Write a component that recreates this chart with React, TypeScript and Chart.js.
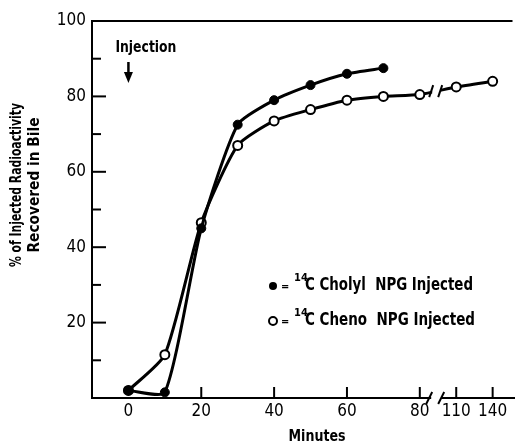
import React, { useEffect, useRef } from 'react';
import { Chart, registerables } from 'chart.js';

Chart.register(...registerables);

// ---- data ----
const minutes = [0, 10, 20, 30, 40, 50, 60, 70, 80, 110, 140];
const cholylValues = [2, 1.5, 45, 72.5, 79, 83, 86, 87.5];
const chenoValues = [2, 11.5, 46.5, 67, 73.5, 76.5, 79, 80, 80.5, 82.5, 84];
const xTickMinutes = [0, 20, 40, 60, 80, 110, 140];
const yTickValues = [20, 40, 60, 80, 100];
const yMinorValues = [10, 30, 50, 70, 90];
const legendLabels = ['Cholyl  NPG Injected', 'Cheno  NPG Injected'];

// broken axis: 80 -> 110 compressed, after the break 3 minutes per axis unit
const BREAK_FROM = 80;
const BREAK_TO = 110;
const toAxis = (t: number) => (t <= BREAK_FROM ? t : BREAK_FROM + 10 + (t - BREAK_TO) / 3);
const BREAK_AXIS = 84.5;

const FONT = "'DejaVu Sans Condensed', 'DejaVu Sans', sans-serif";

function fitText(ctx: any, text: string, x: number, y: number, width: number, align: string) {
  const w = ctx.measureText(text).width;
  const k = width / w;
  ctx.save();
  ctx.translate(x, y);
  ctx.scale(k, 1);
  ctx.textAlign = align;
  ctx.fillText(text, 0, 0);
  ctx.restore();
}

const decorations = {
  id: 'decorations',
  afterDraw(chart: any) {
    const { ctx, chartArea, scales } = chart;
    const xs = scales.x;
    const ys = scales.y;
    ctx.save();
    ctx.strokeStyle = '#000';
    ctx.fillStyle = '#000';
    ctx.lineWidth = 2;
    ctx.lineCap = 'butt';

    // top frame line
    ctx.beginPath();
    ctx.moveTo(chartArea.left, chartArea.top);
    ctx.lineTo(chartArea.right - 2, chartArea.top);
    ctx.stroke();

    // inward y ticks
    yTickValues.forEach((v) => {
      const y = ys.getPixelForValue(v);
      ctx.beginPath();
      ctx.moveTo(chartArea.left, y);
      ctx.lineTo(chartArea.left + 14, y);
      ctx.stroke();
    });
    yMinorValues.forEach((v) => {
      const y = ys.getPixelForValue(v);
      ctx.beginPath();
      ctx.moveTo(chartArea.left, y);
      ctx.lineTo(chartArea.left + 9, y);
      ctx.stroke();
    });
    // inward x ticks (not at 0)
    xTickMinutes.forEach((t) => {
      if (t === 0) return;
      const x = xs.getPixelForValue(toAxis(t));
      ctx.beginPath();
      ctx.moveTo(x, chartArea.bottom);
      ctx.lineTo(x, chartArea.bottom - 11);
      ctx.stroke();
    });

    // axis break marks
    const bx = xs.getPixelForValue(BREAK_AXIS);
    ctx.fillStyle = '#fff';
    ctx.fillRect(bx - 5, chartArea.bottom - 3, 10, 6);
    ctx.fillStyle = '#000';
    [-7, 5].forEach((dx) => {
      ctx.beginPath();
      ctx.moveTo(bx + dx - 3, chartArea.bottom + 6);
      ctx.lineTo(bx + dx + 3, chartArea.bottom - 6);
      ctx.stroke();
    });
    // break on the cheno line
    const meta = chart.getDatasetMeta(1);
    const p1 = meta.data[8];
    const p2 = meta.data[9];
    if (p1 && p2) {
      const f = (bx - p1.x) / (p2.x - p1.x);
      const cy = p1.y + f * (p2.y - p1.y);
      ctx.fillStyle = '#fff';
      ctx.fillRect(bx - 4, cy - 4, 8, 8);
      ctx.fillStyle = '#000';
      [-5, 4].forEach((dx) => {
        ctx.beginPath();
        ctx.moveTo(bx + dx - 2, cy + 6);
        ctx.lineTo(bx + dx + 2, cy - 6);
        ctx.stroke();
      });
    }

    // Injection label & arrow
    const x0 = xs.getPixelForValue(0);
    ctx.font = `bold 16px ${FONT}`;
    ctx.textBaseline = 'middle';
    fitText(ctx, 'Injection', x0 - 13, chartArea.top + 27, 61, 'left');
    ctx.lineWidth = 2.5;
    ctx.beginPath();
    ctx.moveTo(x0, chartArea.top + 41);
    ctx.lineTo(x0, chartArea.top + 54);
    ctx.stroke();
    ctx.beginPath();
    ctx.moveTo(x0 - 4.5, chartArea.top + 51);
    ctx.lineTo(x0 + 4.5, chartArea.top + 51);
    ctx.lineTo(x0, chartArea.top + 62);
    ctx.closePath();
    ctx.fill();

    // legend
    const lx = chartArea.left + 181;
    const ly = [chartArea.top + 265, chartArea.top + 300];
    legendLabels.forEach((label, i) => {
      const y = ly[i];
      ctx.lineWidth = 2;
      ctx.beginPath();
      ctx.arc(lx, y, 4, 0, Math.PI * 2);
      if (i === 0) {
        ctx.fill();
      } else {
        ctx.fillStyle = '#fff';
        ctx.fill();
        ctx.fillStyle = '#000';
        ctx.stroke();
      }
      ctx.textBaseline = 'middle';
      ctx.textAlign = 'left';
      ctx.font = `bold 11px ${FONT}`;
      ctx.fillText('=', lx + 8, y + 1);
      ctx.font = `bold 11px ${FONT}`;
      ctx.fillText('14', lx + 21, y - 8);
      ctx.font = `bold 17px ${FONT}`;
      fitText(ctx, 'C ' + label, lx + 32, y, i === 0 ? 168 : 170, 'left');
    });

    // y title
    ctx.save();
    ctx.font = `bold 15px ${FONT}`;
    ctx.textBaseline = 'middle';
    const cyT = chartArea.top + 164;
    ctx.translate(17, cyT);
    ctx.rotate(-Math.PI / 2);
    fitText(ctx, '% of Injected Radioactivity', 0, 0, 164, 'center');
    fitText(ctx, 'Recovered in Bile', 0, 18, 135, 'center');
    ctx.restore();

    // x title
    ctx.font = `bold 16px ${FONT}`;
    ctx.textBaseline = 'middle';
    fitText(ctx, 'Minutes', chartArea.left + 225, chartArea.bottom + 39, 57, 'center');

    ctx.restore();
  },
};

export default function App() {
  const ref = useRef<HTMLCanvasElement>(null);
  useEffect(() => {
    if (!ref.current) return;
    const chart = new Chart(ref.current, {
      type: 'line',
      data: {
        datasets: [
          {
            label: 'Cholyl',
            data: cholylValues.map((v, i) => ({ x: toAxis(minutes[i]), y: v })),
            borderColor: '#000',
            borderWidth: 3,
            pointRadius: 4.5,
            pointBackgroundColor: '#000',
            pointBorderColor: '#000',
            pointBorderWidth: 1,
            tension: 0.2,
          },
          {
            label: 'Cheno',
            data: chenoValues.map((v, i) => ({ x: toAxis(minutes[i]), y: v })),
            borderColor: '#000',
            borderWidth: 3,
            pointRadius: 4.5,
            pointBackgroundColor: '#fff',
            pointBorderColor: '#000',
            pointBorderWidth: 2,
            tension: 0.2,
          },
        ],
      },
      options: {
        animation: false,
        responsive: false,
        devicePixelRatio: 1,
        layout: { padding: { top: 21, right: 2, left: 0, bottom: 0 } },
        plugins: { legend: { display: false }, tooltip: { enabled: false } },
        scales: {
          x: {
            type: 'linear',
            min: -10,
            max: 106,
            grid: { display: false, drawTicks: false },
            border: { display: true, color: '#000', width: 2 },
            afterBuildTicks: (s: any) => {
              s.ticks = xTickMinutes.map((t) => ({ value: toAxis(t) }));
            },
            afterFit: (s: any) => {
              s.height = 47;
            },
            ticks: {
              color: '#000',
              padding: 3,
              autoSkip: false,
              maxRotation: 0,
              font: { family: FONT, size: 17 },
              callback: (_v: any, i: number) => String(xTickMinutes[i]),
            },
          },
          y: {
            min: 0,
            max: 100,
            grid: { display: false, drawTicks: false },
            border: { display: true, color: '#000', width: 2 },
            afterBuildTicks: (s: any) => {
              s.ticks = yTickValues.map((v) => ({ value: v }));
            },
            afterFit: (s: any) => {
              s.width = 92;
            },
            ticks: {
              color: '#000',
              padding: 6,
              font: { family: FONT, size: 17 },
              callback: (_v: any, i: number) => String(yTickValues[i]),
            },
          },
        },
      },
      plugins: [decorations],
    } as any);
    return () => chart.destroy();
  }, []);
  return (
    <div style={{ position: 'absolute', left: 0, top: 0, width: 521, height: 445, background: '#fff' }}>
      <canvas ref={ref} width={521} height={445} />
    </div>
  );
}
